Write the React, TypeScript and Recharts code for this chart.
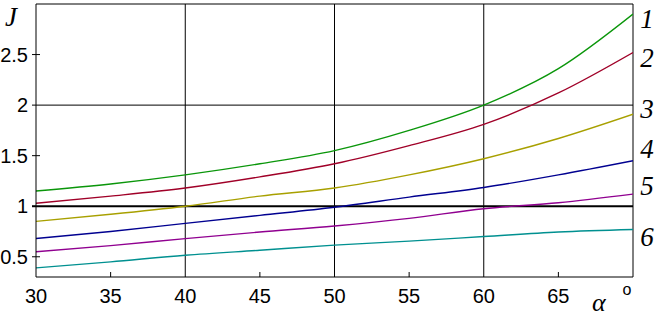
import { LineChart, Line, XAxis, YAxis, ReferenceLine } from "recharts"

const alpha = [30, 35, 40, 45, 50, 55, 60, 65, 70]
const j1 = [1.15, 1.22, 1.31, 1.42, 1.55, 1.75, 2.0, 2.36, 2.9]
const j2 = [1.03, 1.1, 1.18, 1.29, 1.42, 1.6, 1.81, 2.12, 2.52]
const j3 = [0.85, 0.92, 1.0, 1.1, 1.18, 1.31, 1.47, 1.67, 1.91]
const j4 = [0.68, 0.75, 0.83, 0.91, 0.99, 1.09, 1.185, 1.31, 1.45]
const j5 = [0.55, 0.61, 0.68, 0.745, 0.805, 0.88, 0.975, 1.035, 1.12]
const j6 = [0.39, 0.45, 0.515, 0.565, 0.615, 0.655, 0.7, 0.745, 0.77]

const xTicks = [30, 35, 40, 45, 50, 55, 60, 65, 70]
const yTicks = [0.5, 1, 1.5, 2, 2.5]
const curveLabels = ["1", "2", "3", "4", "5", "6"]
const colors = ["#0a960a", "#a00028", "#a8a000", "#000090", "#900090", "#009090"]

const data = alpha.map((a, i) => ({
  a,
  j1: j1[i],
  j2: j2[i],
  j3: j3[i],
  j4: j4[i],
  j5: j5[i],
  j6: j6[i],
}))

const sans = "'Liberation Sans', Arial, sans-serif"
const serif = "'Liberation Serif', 'Times New Roman', serif"

function XTick(props: any) {
  const { x, y, payload } = props
  const v = payload.value
  const grid = v === 40 || v === 50 || v === 60
  return (
    <g>
      {!grid && v !== 30 && v !== 70 && (
        <line x1={x} x2={x} y1={y} y2={y - 5} stroke="#000" />
      )}
      {v !== 70 && (
        <text x={x} y={y + 26} textAnchor="middle" fontSize={20} fontFamily={sans} fill="#000">
          {v}
        </text>
      )}
    </g>
  )
}

function YTick(props: any) {
  const { x, y, payload } = props
  const v = payload.value
  const grid = v === 1 || v === 2
  return (
    <g>
      <line x1={x - 4} x2={grid ? x : x + 4} y1={y} y2={y} stroke="#000" strokeWidth={v === 1 ? 2 : 1} />
      <text x={x - 8} y={y} dy="0.355em" textAnchor="end" fontSize={20} fontFamily={sans} fill="#000">
        {v}
      </text>
    </g>
  )
}

const labelY = [28, 67, 118, 158, 195, 246]

export default function App() {
  return (
    <div style={{ position: "absolute", left: 0, top: 0, width: 659, height: 319, background: "#fff" }}>
      <LineChart width={659} height={319} data={data} margin={{ top: 4, right: 26, left: 0, bottom: 0 }}>
        <XAxis
          dataKey="a"
          type="number"
          domain={[30, 70]}
          ticks={xTicks}
          height={42}
          axisLine={{ stroke: "#000" }}
          tickLine={false}
          tickSize={0}
          tickMargin={0}
          tick={XTick}
          allowDataOverflow
        />
        <YAxis
          type="number"
          domain={[0.3, 3]}
          ticks={yTicks}
          width={36}
          axisLine={{ stroke: "#000" }}
          tickLine={false}
          tickSize={0}
          tickMargin={0}
          tick={YTick}
          allowDataOverflow
        />
        <ReferenceLine x={40} stroke="#000" />
        <ReferenceLine x={50} stroke="#000" />
        <ReferenceLine x={60} stroke="#000" />
        <ReferenceLine x={70} stroke="#000" />
        <ReferenceLine y={2} stroke="#000" />
        <ReferenceLine y={1} stroke="#000" strokeWidth={2} />
        <ReferenceLine y={3} stroke="#000" />
        {["j1", "j2", "j3", "j4", "j5", "j6"].map((k, i) => (
          <Line
            key={k}
            dataKey={k}
            type="monotone"
            stroke={colors[i]}
            strokeWidth={1.4}
            dot={false}
            isAnimationActive={false}
          />
        ))}
      </LineChart>
      <svg width={659} height={319} style={{ position: "absolute", left: 0, top: 0, pointerEvents: "none" }}>
        <text x={5} y={26} fontSize={27} fontStyle="italic" fontFamily={serif}>J</text>
        <text x={592} y={311} fontSize={26} fontStyle="italic" fontFamily={serif}>α</text>
        <text x={627} y={295} textAnchor="middle" fontSize={16} fontFamily={sans}>o</text>
        {curveLabels.map((t, i) => (
          <text key={t} x={647} y={labelY[i]} textAnchor="middle" fontSize={27} fontStyle="italic" fontFamily={serif}>
            {t}
          </text>
        ))}
      </svg>
    </div>
  )
}
